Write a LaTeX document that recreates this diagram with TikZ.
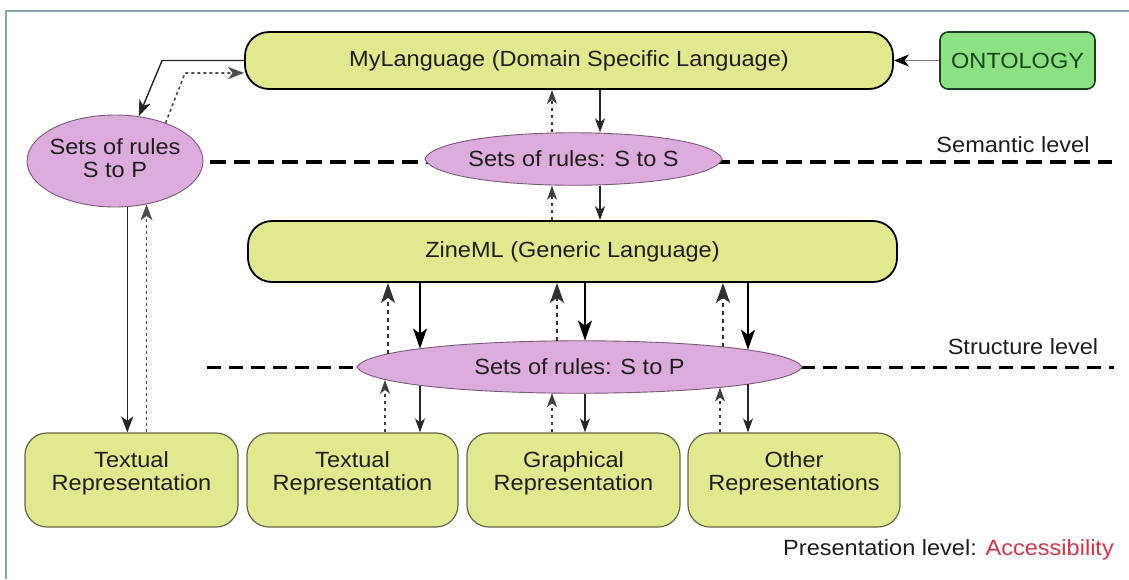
\documentclass[tikz,border=0pt]{standalone}
\usepackage{fontspec}
\setmainfont[FakeStretch=1.07]{Liberation Sans}
\usetikzlibrary{arrows.meta,calc,backgrounds,shapes.geometric}
\definecolor{boxfill}{RGB}{224,233,142}
\definecolor{pinkfill}{RGB}{220,172,220}
\definecolor{pinkline}{RGB}{120,90,120}
\definecolor{ontfill}{RGB}{140,226,130}
\definecolor{ontline}{RGB}{30,60,30}
\definecolor{onttext}{RGB}{25,70,25}
\definecolor{frameblue}{RGB}{140,165,176}
\definecolor{olive}{RGB}{100,100,75}
\definecolor{accred}{RGB}{205,55,70}
\definecolor{txt}{RGB}{30,30,30}
\newcommand{\twol}[2]{\raisebox{6pt}[\height][\depth]{\begin{tabular}{@{}c@{}}#1\\#2\end{tabular}}}
\newcommand{\lensshape}[3]{%
  \draw[lensst] (#1.west) .. controls ($(#1.west)+(#2,-#3)$) and ($(#1.east)+(-#2,-#3)$) .. (#1.east)
    .. controls ($(#1.east)+(-#2,#3)$) and ($(#1.west)+(#2,#3)$) .. (#1.west) -- cycle;}
\begin{document}
\begin{tikzpicture}[x=1pt,y=-1pt,
  font=\fontsize{22}{23}\selectfont, text=txt,
  langbox/.style={draw=black, line width=1.8pt, fill=boxfill, rounded corners=24pt, inner sep=0pt},
  repbox/.style={draw=olive, line width=1.2pt, fill=boxfill, rounded corners=22pt,
                 minimum height=94pt, inner sep=0pt},
  ontbox/.style={draw=ontline, line width=1.6pt, fill=ontfill, rounded corners=8pt, inner sep=0pt,
                 minimum width=155pt, minimum height=57pt, text=onttext},
  lensnode/.style={draw=none, inner sep=0pt, minimum height=53pt},
  lensst/.style={draw=pinkline, line width=0.9pt, fill=pinkfill},
  ellnode/.style={ellipse, draw=pinkline, line width=0.9pt, fill=pinkfill, inner sep=0pt},
  lbl/.style={inner sep=0pt},
  levelline/.style={black, dash pattern=on 16pt off 8pt},
  bigtip/.style={-{Stealth[length=20pt,width=14pt,inset=5pt]}},
  medtip/.style={-{Stealth[length=16pt,width=12pt,inset=4.5pt]}},
  smalltip/.style={-{Stealth[length=14pt,width=10pt,inset=4pt]}},
  thickarr/.style={bigtip, line width=1.8pt, black},
  thickdash/.style={bigtip, line width=1.8pt, black!80, dash pattern=on 4pt off 4pt},
  thinarr/.style={smalltip, line width=1.1pt, black!85},
  thindash/.style={smalltip, line width=1.3pt, black!75, dash pattern=on 3.5pt off 3.5pt},
  medarr/.style={medtip, line width=1.4pt, black!85},
  meddot/.style={medtip, line width=1.6pt, black!70, dash pattern=on 3pt off 3pt},
]
\useasboundingbox (0,0) rectangle (1129,579);
\draw[frameblue, line width=2pt] (6,579) -- (6,11) -- (1129,11);

% nodes
\node[langbox, minimum width=648pt, minimum height=57pt] (myl) at (569,60.5) {MyLanguage (Domain Specific Language)};
\node[ontbox] (ont) at (1017.5,60.5) {ONTOLOGY};
\node[langbox, minimum width=649pt, minimum height=61pt] (zine) at (572.5,251.5) {ZineML (Generic Language)};
\node[ellnode, minimum width=176pt, minimum height=92pt] (lel) at (115,161)
  {\makebox[0pt]{\begin{tabular}{@{}c@{}}Sets of rules\\S to P\end{tabular}}};
\node[lensnode, minimum width=297pt] (stt) at (573.5,159) {Sets of rules: S to S};
\node[lensnode, minimum width=445pt] (stp) at (579.5,367) {Sets of rules: S to P};

\node[repbox, minimum width=213pt] (b1) at (131.5,480) {\twol{Textual}{Representation}};
\node[repbox, minimum width=211pt] (b2) at (352.5,480) {\twol{Textual}{Representation}};
\node[repbox, minimum width=213pt] (b3) at (573.5,480) {\twol{Graphical}{Representation}};
\node[repbox, minimum width=212pt] (b4) at (794,480) {\twol{Other}{Representations}};

\node[lbl] (semlbl) at (1013,145) {Semantic level};
\node[lbl] (strlbl) at (1023,347) {Structure level};
\node[lbl, anchor=east] (preslbl) at (1114,550) {Presentation level: \textcolor{accred}{Accessibility}};

\coordinate (semend) at (1112,162);
\coordinate (strstart) at (207,367);
\coordinate (strend) at (1114,367);

\begin{scope}[on background layer]
  \fill[white] (0,0) rectangle (1129,579);
  \draw[levelline, line width=3.5pt] ($(lel.east)+(7,1)$) -- (semend);
  \draw[levelline, line width=3pt, dash pattern=on 14pt off 8pt] (strstart) -- (strend);
  \lensshape{stt}{14}{35}
  \lensshape{stp}{20}{35}
\end{scope}

% ontology -> mylanguage
\draw[line width=1.5pt, gray, -{Stealth[length=15pt,width=12pt,inset=4.5pt,black]}] (ont.west) -- (myl.east);

% left column
\draw[medarr] (myl.west) -- ++(-82,0) -- (lel.62.6);
\draw[meddot] (lel.37.2) -- (185,73) -- (myl.west |- 0,73);
\draw[medarr] (lel.285.9) -- (lel.285.9 |- b1.north);
\draw[meddot] (lel.306.7 |- b1.north) -- (lel.306.7);

% MyLanguage <-> S to S <-> ZineML
\draw[thindash] (stt.north -| 552,0) -- (myl.south -| 552,0);
\draw[thinarr] (myl.south -| 600,0) -- (stt.north -| 600,0);
\draw[thindash] (zine.north -| 552,0) -- (stt.south -| 552,0);
\draw[thinarr] (stt.south -| 600,0) -- (zine.north -| 600,0);

% ZineML <-> S to P
\draw[thickdash] ($(stp.center)+(-191.5,-13.5)$) -- (zine.south -| 388,0);
\draw[thickarr] (zine.south -| 420,0) -- ($(stp.center)+(-159.5,-18.5)$);
\draw[thickdash] ($(stp.center)+(-22.5,-26.3)$) -- (zine.south -| 557,0);
\draw[thickarr] (zine.south -| 585,0) -- ($(stp.center)+(5.5,-26.5)$);
\draw[thickdash] ($(stp.center)+(143.5,-20.3)$) -- (zine.south -| 723,0);
\draw[thickarr] (zine.south -| 748,0) -- ($(stp.center)+(168.5,-17.3)$);

% S to P <-> representations
\draw[thindash] (b2.north -| 385,0) -- ($(stp.center)+(-194.5,12.9)$);
\draw[thinarr] ($(stp.center)+(-159.5,18.5)$) -- (b2.north -| 420,0);
\draw[thindash] (b3.north -| 552,0) -- ($(stp.center)+(-27.5,26.2)$);
\draw[thinarr] ($(stp.center)+(5.5,26.5)$) -- (b3.north -| 585,0);
\draw[thindash] (b4.north -| 720,0) -- ($(stp.center)+(140.5,20.5)$);
\draw[thinarr] ($(stp.center)+(168.5,17.3)$) -- (b4.north -| 748,0);
\end{tikzpicture}
\end{document}
